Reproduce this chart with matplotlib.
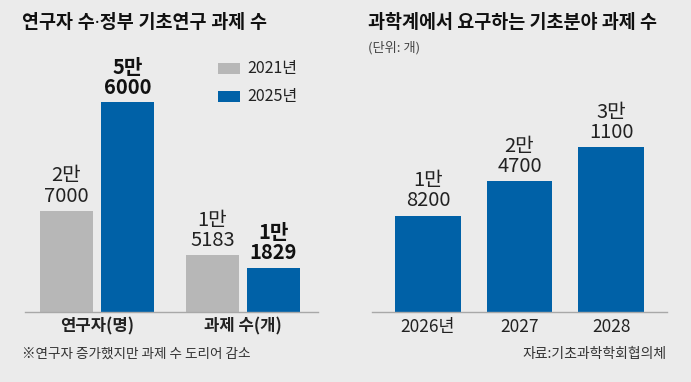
import matplotlib
matplotlib.use('Agg')
import matplotlib.pyplot as plt
from matplotlib.patches import Rectangle

plt.rcParams['font.family'] = ['Noto Sans CJK KR', 'DejaVu Sans']

# left chart data
left_groups = ['연구자(명)', '과제 수(개)']
left_2021 = [27000, 15183]
left_2025 = [56000, 11829]
left_labels_2021 = ['2만\n7000', '1만\n5183']
left_labels_2025 = ['5만\n6000', '1만\n1829']

# right chart data
right_years = ['2026년', '2027', '2028']
right_values = [18200, 24700, 31100]
right_labels = ['1만\n8200', '2만\n4700', '3만\n1100']

BG = '#ebebeb'
BLUE = '#0061a7'
GRAY = '#b7b7b7'
W, H = 691, 382

fig = plt.figure(figsize=(W / 100, H / 100), dpi=100)
fig.patch.set_facecolor(BG)

def px(x, y):
    return x / W, 1 - y / H

def style(ax):
    ax.set_facecolor('none')
    for s in ['top', 'right', 'left']:
        ax.spines[s].set_visible(False)
    ax.spines['bottom'].set_color('#a8a8a8')
    ax.spines['bottom'].set_linewidth(1)
    ax.set_yticks([])
    ax.tick_params(axis='x', length=0, pad=4)

# left panel
axl = fig.add_axes([25 / W, 70 / H, 293 / W, 240 / H])
style(axl)
xs = list(range(len(left_groups)))
off, bw = 0.209, 0.363
b1 = axl.bar([x - off for x in xs], left_2021, bw, color=GRAY)
b2 = axl.bar([x + off for x in xs], left_2025, bw, color=BLUE)
axl.set_xlim(-0.493, 1.514)
axl.set_ylim(0, 240 / 3.75 * 1000)
axl.set_xticks(xs)
axl.set_xticklabels(left_groups, fontsize=12, fontweight='bold', color='#222222')
for bar, lab in zip(b1, left_labels_2021):
    axl.annotate(lab, (bar.get_x() + bar.get_width() / 2, bar.get_height()),
                 xytext=(0, 3), textcoords='offset points', ha='center', va='bottom',
                 fontsize=14.5, linespacing=0.95, color='#222222')
for bar, lab in zip(b2, left_labels_2025):
    axl.annotate(lab, (bar.get_x() + bar.get_width() / 2, bar.get_height()),
                 xytext=(0, 3), textcoords='offset points', ha='center', va='bottom',
                 fontsize=14.5, linespacing=0.95, fontweight='bold', color='#111111')

# right panel
axr = fig.add_axes([372 / W, 70 / H, 295 / W, 240 / H])
style(axr)
xr = list(range(len(right_years)))
bars = axr.bar(xr, right_values, 0.721, color=BLUE)
axr.set_xlim(-0.612, 2.612)
axr.set_ylim(0, 240 / 5.3 * 1000)
axr.set_xticks(xr)
axr.set_xticklabels(right_years, fontsize=12.5, color='#222222')
for bar, lab in zip(bars, right_labels):
    axr.annotate(lab, (bar.get_x() + bar.get_width() / 2, bar.get_height()),
                 xytext=(0, 3), textcoords='offset points', ha='center', va='bottom',
                 fontsize=14.5, linespacing=0.95, color='#222222')

# titles
fig.text(*px(22, 23), '연구자 수·정부 기초연구 과제 수', fontsize=13.3, fontweight='bold',
         va='center', ha='left', color='#111111', family=['Noto Sans', 'Noto Sans CJK KR'])
fig.text(*px(368, 23), '과학계에서 요구하는 기초분야 과제 수', fontsize=13.3, fontweight='bold',
         va='center', ha='left', color='#111111')
fig.text(*px(368, 48), '(단위: 개)', fontsize=9.5, va='center', ha='left', color='#444444')

# legend
for yy, col, name in [(68, GRAY, '2021년'), (96, BLUE, '2025년')]:
    x0, y0 = px(218, yy + 6)
    fig.patches.append(Rectangle((x0, y0), 22 / W, 11 / H, transform=fig.transFigure,
                                 facecolor=col, edgecolor='none'))
    fig.text(*px(247, yy), name, fontsize=11.5, va='center', ha='left', color='#222222')

# notes
fig.text(*px(22, 354), '※연구자 증가했지만 과제 수 도리어 감소', fontsize=9.8,
         va='center', ha='left', color='#333333')
fig.text(*px(667, 354), '자료:기초과학학회협의체', fontsize=10,
         va='center', ha='right', color='#333333')

fig.savefig('out.png', dpi=100, facecolor=BG)
